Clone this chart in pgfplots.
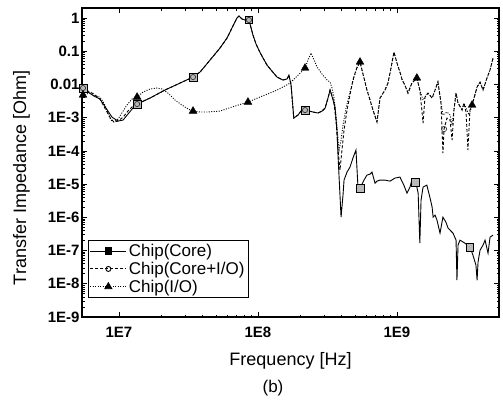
\documentclass[border=0pt]{standalone}
\usepackage{pgfplots}
\pgfplotsset{compat=1.18}
\usepackage{fontspec}
\setmainfont{Liberation Sans}
\begin{document}
\begin{tikzpicture}
\begin{axis}[
  scale only axis,
  width=417bp, height=309bp,
  xmode=log, ymode=log,
  xmin=5.42e6, xmax=5.42e9,
  ymin=1e-9, ymax=2.0,
  axis line style={line width=1.2bp},
  tick style={black, line width=0.6bp},
  tick align=inside,
  major tick length=5bp,
  minor tick length=2.5bp,
  xtick={1e7,1e8,1e9},
  xticklabels={1E7,1E8,1E9},
  ytick={1e-9,1e-8,1e-7,1e-6,1e-5,1e-4,1e-3,1e-2,1e-1,1},
  yticklabels={1E-9,1E-8,1E-7,1E-6,1E-5,1E-4,1E-3,0.01,0.1,1},
  tick label style={font=\fontsize{15bp}{17bp}\selectfont\bfseries},
  yticklabel style={xshift=1bp},
  xticklabel style={yshift=-7bp},
  xlabel={Frequency [Hz]},
  ylabel={Transfer Impedance [Ohm]},
  label style={font=\fontsize{18bp}{20bp}\selectfont},
  xlabel style={at={(axis description cs:0.5,-0.142)}, anchor=center},
  ylabel style={at={(axis description cs:-0.145,0.45)}, anchor=center},
  legend style={at={(axis description cs:0.0144,0.063)}, anchor=south west,
    draw=black, line width=0.8bp, font=\fontsize{17bp}{19bp}\selectfont,
    inner sep=1.5bp, row sep=0bp, cells={anchor=west}},
  legend image code/.code={\draw[mark repeat=2,mark phase=2,#1] plot coordinates {(0bp,0bp) (18bp,0bp) (36bp,0bp)};},
]
% ---- Chip(I/O), dotted
\addplot[black, line width=0.9bp, dash pattern=on 1bp off 1.5bp, forget plot] coordinates {
(5.42e6,4.80e-3) (5.79e6,5.14e-3) (6.18e6,5.51e-3) (6.72e6,4.48e-3) (7.30e6,4.17e-3)
(7.80e6,2.75e-3) (8.33e6,1.38e-3) (8.75e6,8.47e-4) (9.21e6,7.37e-4) (9.84e6,9.08e-4)
(1.05e7,1.38e-3) (1.14e7,2.40e-3) (1.24e7,3.63e-3) (1.35e7,4.17e-3) (1.49e7,5.90e-3)
(1.67e7,7.27e-3) (1.88e7,7.80e-3) (2.04e7,7.27e-3) (2.25e7,5.51e-3) (2.53e7,3.39e-3)
(2.84e7,2.40e-3) (3.14e7,1.82e-3) (3.41e7,1.58e-3) (3.83e7,1.48e-3) (4.30e7,1.48e-3)
(5.33e7,1.58e-3) (6.84e7,2.24e-3) (8.47e7,2.95e-3) (1.03e8,4.17e-3) (1.22e8,5.51e-3)
(1.37e8,6.78e-3) (1.56e8,8.95e-3) (1.70e8,1.10e-2) (1.85e8,1.56e-2) (2.01e8,2.20e-2)
(2.18e8,3.12e-2) (2.29e8,5.43e-2) (2.41e8,8.83e-2) (2.53e8,5.43e-2) (2.66e8,3.34e-2)
(2.89e8,2.06e-2) (3.14e8,1.36e-2) (3.30e8,1.18e-2) (3.41e8,7.80e-3) (3.52e8,4.17e-3)
(3.64e8,1.20e-3) (3.77e8,2.11e-4) (3.83e8,1.06e-4) (3.96e8,2.11e-4) (4.09e8,5.98e-4)
(4.30e8,1.95e-3) (4.59e8,5.90e-3) (4.91e8,1.67e-2) (5.15e8,3.12e-2) (5.42e8,4.73e-2)
(5.79e8,1.56e-2) (6.08e8,6.78e-3) (6.40e8,3.39e-3) (6.72e8,1.69e-3) (7.18e8,7.37e-4)
(7.55e8,3.89e-3) (8.20e8,6.78e-3) (8.61e8,1.10e-2) (9.06e8,3.12e-2) (9.51e8,9.46e-2)
(1.00e9,4.41e-2) (1.05e9,2.36e-2) (1.09e9,1.36e-2) (1.14e9,9.59e-3) (1.20e9,5.51e-3)
(1.28e9,1.10e-2) (1.39e9,1.56e-2) (1.46e9,6.78e-3) (1.54e9,3.39e-3) (1.59e9,4.17e-3)
(1.67e9,5.51e-3) (1.79e9,3.89e-3) (1.88e9,6.78e-3) (1.97e9,1.18e-2) (2.07e9,2.95e-3)
(2.14e9,1.20e-3) (2.29e9,1.48e-3) (2.41e9,1.20e-3) (2.49e9,5.98e-4) (2.57e9,1.69e-3)
(2.66e9,5.51e-3) (2.75e9,2.75e-3) (2.94e9,1.69e-3) (3.03e9,2.75e-3) (3.19e9,1.69e-3)
(3.30e9,1.20e-3) (3.47e9,2.40e-3) (3.77e9,8.35e-3) (3.96e9,1.18e-2) (4.16e9,6.78e-3)
(4.44e9,1.56e-2) (4.67e9,2.72e-2) (4.91e9,6.24e-2)
};
% ---- Chip(Core+I/O), dashed
\addplot[black, line width=0.9bp, dash pattern=on 3bp off 2bp, forget plot] coordinates {
(5.42e6,7.80e-3) (5.98e6,6.33e-3) (6.61e6,5.14e-3) (7.30e6,3.63e-3) (8.06e6,1.69e-3)
(8.75e6,9.08e-4) (9.21e6,7.37e-4) (9.84e6,7.90e-4) (1.07e7,1.04e-3) (1.16e7,1.58e-3)
(1.26e7,2.24e-3) (1.35e7,2.57e-3) (1.67e7,3.89e-3) (2.14e7,6.78e-3) (2.75e7,1.10e-2)
(3.41e7,1.67e-2) (3.83e7,2.36e-2) (4.52e7,5.43e-2) (5.33e7,0.125) (5.99e7,0.25)
(6.50e7,0.50) (7.06e7,1.0) (7.30e7,1.15) (7.67e7,0.933) (8.06e7,0.871) (8.61e7,0.871)
(9.20e7,0.308) (9.68e7,0.165) (1.03e8,0.0946) (1.16e8,0.0384) (1.26e8,0.0253)
(1.37e8,0.0167) (1.51e8,0.0136) (1.62e8,0.0146) (1.67e8,0.0192) (1.73e8,9.59e-3)
(1.79e8,1.69e-3) (1.81e8,9.73e-4) (1.94e8,1.20e-3) (2.04e8,1.58e-3) (2.18e8,1.69e-3)
(2.33e8,1.58e-3) (2.49e8,1.48e-3) (2.70e8,1.38e-3) (2.89e8,1.58e-3) (3.04e8,1.95e-3)
(3.19e8,3.89e-3) (3.30e8,6.78e-3)
(3.41e8,4.80e-3) (3.52e8,2.75e-3) (3.64e8,8.47e-4) (3.77e8,1.06e-4) (3.89e8,2.64e-5)
(4.02e8,1.06e-4) (4.16e8,4.23e-4) (4.37e8,1.69e-3) (4.59e8,4.80e-3) (4.82e8,1.36e-2)
(5.07e8,2.72e-2) (5.24e8,3.84e-2) (5.42e8,4.73e-2)
(5.79e8,1.56e-2) (6.08e8,6.78e-3) (6.40e8,3.39e-3) (6.72e8,1.69e-3) (7.18e8,7.37e-4)
(7.55e8,3.89e-3) (8.20e8,6.78e-3) (8.61e8,1.10e-2) (9.06e8,3.12e-2) (9.51e8,9.46e-2)
(1.00e9,4.41e-2) (1.05e9,2.36e-2) (1.09e9,1.36e-2) (1.14e9,9.59e-3) (1.20e9,5.51e-3)
(1.28e9,1.10e-2) (1.39e9,1.56e-2) (1.46e9,6.78e-3) (1.51e9,1.69e-3) (1.54e9,6.88e-4)
(1.59e9,4.17e-3) (1.67e9,5.51e-3) (1.79e9,3.89e-3) (1.88e9,6.78e-3) (1.97e9,1.18e-2)
(2.07e9,2.95e-3) (2.11e9,4.23e-4) (2.14e9,8.59e-5) (2.18e9,4.54e-4) (2.29e9,9.73e-4)
(2.41e9,8.47e-4) (2.49e9,2.11e-4) (2.57e9,1.69e-3) (2.66e9,5.51e-3) (2.75e9,2.75e-3)
(2.94e9,1.69e-3) (3.03e9,2.75e-3) (3.14e9,1.48e-3) (3.24e9,1.06e-4) (3.35e9,1.69e-3)
(3.47e9,2.40e-3) (3.77e9,8.35e-3) (3.96e9,1.18e-2) (4.16e9,6.78e-3) (4.44e9,1.56e-2)
(4.67e9,2.72e-2) (4.91e9,6.24e-2)
};
% ---- Chip(Core), solid
\addplot[black, line width=0.9bp, forget plot] coordinates {
(5.42e6,7.27e-3) (5.98e6,5.90e-3) (6.61e6,4.48e-3) (7.30e6,3.63e-3) (8.06e6,1.95e-3)
(8.90e6,1.04e-3) (9.84e6,7.90e-4) (1.07e7,8.47e-4) (1.16e7,1.28e-3) (1.26e7,1.95e-3)
(1.35e7,2.57e-3) (1.67e7,3.89e-3) (2.14e7,6.78e-3) (2.75e7,1.10e-2) (3.41e7,1.67e-2)
(3.83e7,2.36e-2) (4.52e7,5.43e-2) (5.33e7,0.125) (5.99e7,0.25) (6.50e7,0.50)
(7.06e7,1.0) (7.30e7,1.15) (7.67e7,0.933) (8.06e7,0.871) (8.61e7,0.871) (9.20e7,0.308)
(9.68e7,0.165) (1.03e8,0.0946) (1.16e8,0.0384) (1.26e8,0.0253) (1.37e8,0.0167)
(1.51e8,0.0136) (1.62e8,0.0146) (1.67e8,0.0192) (1.73e8,9.59e-3) (1.79e8,1.69e-3)
(1.81e8,9.73e-4) (1.94e8,1.20e-3) (2.04e8,1.58e-3) (2.18e8,1.69e-3) (2.33e8,1.58e-3)
(2.49e8,1.48e-3) (2.70e8,1.38e-3) (2.89e8,1.58e-3) (3.04e8,1.95e-3) (3.19e8,3.89e-3)
(3.30e8,6.78e-3) (3.47e8,3.39e-3) (3.58e8,2.09e-3) (3.70e8,4.23e-4) (3.77e8,6.51e-5)
(3.89e8,4.67e-6) (3.96e8,1.01e-6) (4.09e8,4.67e-6) (4.16e8,1.32e-5) (4.37e8,2.30e-5)
(4.59e8,3.25e-5) (4.82e8,6.07e-5) (5.07e8,1.06e-4) (5.24e8,8.12e-6) (5.42e8,7.58e-6)
(5.79e8,1.32e-5) (6.08e8,1.87e-5) (6.40e8,2.00e-5) (6.61e8,2.30e-5) (6.95e8,1.07e-5)
(7.18e8,1.23e-5) (7.55e8,1.32e-5) (8.20e8,1.32e-5) (8.91e8,1.23e-5) (9.68e8,1.52e-5)
(1.05e9,1.63e-5) (1.12e9,9.33e-6) (1.18e9,5.36e-6) (1.24e9,8.12e-6) (1.28e9,1.32e-5)
(1.35e9,1.15e-5) (1.39e9,8.12e-6) (1.42e9,5.36e-6) (1.46e9,1.67e-7) (1.49e9,3.30e-6)
(1.54e9,8.12e-6) (1.64e9,9.33e-6) (1.73e9,3.79e-6) (1.79e9,2.03e-6) (1.82e9,1.01e-6)
(1.88e9,1.16e-6) (1.94e9,8.24e-7) (2.04e9,3.34e-7) (2.14e9,1.01e-6) (2.25e9,7.17e-7)
(2.33e9,4.73e-7) (2.53e9,3.34e-7) (2.66e9,2.06e-7) (2.70e9,1.28e-8) (2.75e9,1.46e-7)
(2.84e9,2.06e-7) (3.08e9,1.67e-7) (3.35e9,1.27e-7) (3.52e9,7.27e-8) (3.70e9,3.63e-8)
(3.77e9,1.28e-8) (3.83e9,4.48e-8) (3.96e9,1.03e-7) (4.16e9,1.46e-7) (4.30e9,2.06e-7)
(4.52e9,8.35e-8) (4.67e9,2.53e-7) (4.91e9,2.91e-7)
};
% ---- markers
\addplot[only marks, mark=square*, mark size=3.8bp, mark options={fill=gray!55, draw=black, line width=0.6bp}, forget plot] coordinates {
(5.51e6,7.80e-3) (1.35e7,2.57e-3) (3.41e7,1.67e-2) (8.61e7,0.871) (2.18e8,1.69e-3)
(5.42e8,7.58e-6) (1.35e9,1.15e-5) (3.35e9,1.27e-7)
};
\addplot[only marks, mark=o, mark size=2.6bp, mark options={draw=black!80, line width=0.7bp}, forget plot] coordinates {
(5.51e6,7.80e-3) (1.35e7,2.57e-3) (3.41e7,1.67e-2) (8.61e7,0.871) (2.18e8,1.69e-3)
(2.18e9,4.54e-4)
};
\addplot[only marks, mark=triangle*, mark size=4.5bp, mark options={fill=black, draw=black}, forget plot] coordinates {
(5.51e6,4.80e-3) (1.35e7,4.17e-3) (3.41e7,1.58e-3) (8.47e7,2.95e-3) (2.18e8,3.12e-2)
(5.42e8,4.73e-2) (1.39e9,1.56e-2) (3.47e9,2.40e-3)
};
% ---- legend
\addlegendimage{black, line width=0.9bp, mark=square*, mark size=3.3bp, mark options={solid, fill=black}}
\addlegendentry{Chip(Core)}
\addlegendimage{black, line width=0.9bp, dash pattern=on 3bp off 2bp, mark=o, mark size=2.5bp, mark options={solid}}
\addlegendentry{Chip(Core+I/O)}
\addlegendimage{black, line width=0.9bp, dash pattern=on 1bp off 1.5bp, mark=triangle*, mark size=4bp, mark options={solid, fill=black}}
\addlegendentry{Chip(I/O)}
\end{axis}
\node[font=\fontsize{17bp}{19bp}\selectfont] at ([xshift=191bp,yshift=-71bp]current axis.south west) {(b)};
\pgfresetboundingbox
\path ([shift={(-82bp,-89bp)}]current axis.south west) rectangle ([shift={(4bp,8bp)}]current axis.north east);
\end{tikzpicture}
\end{document}
